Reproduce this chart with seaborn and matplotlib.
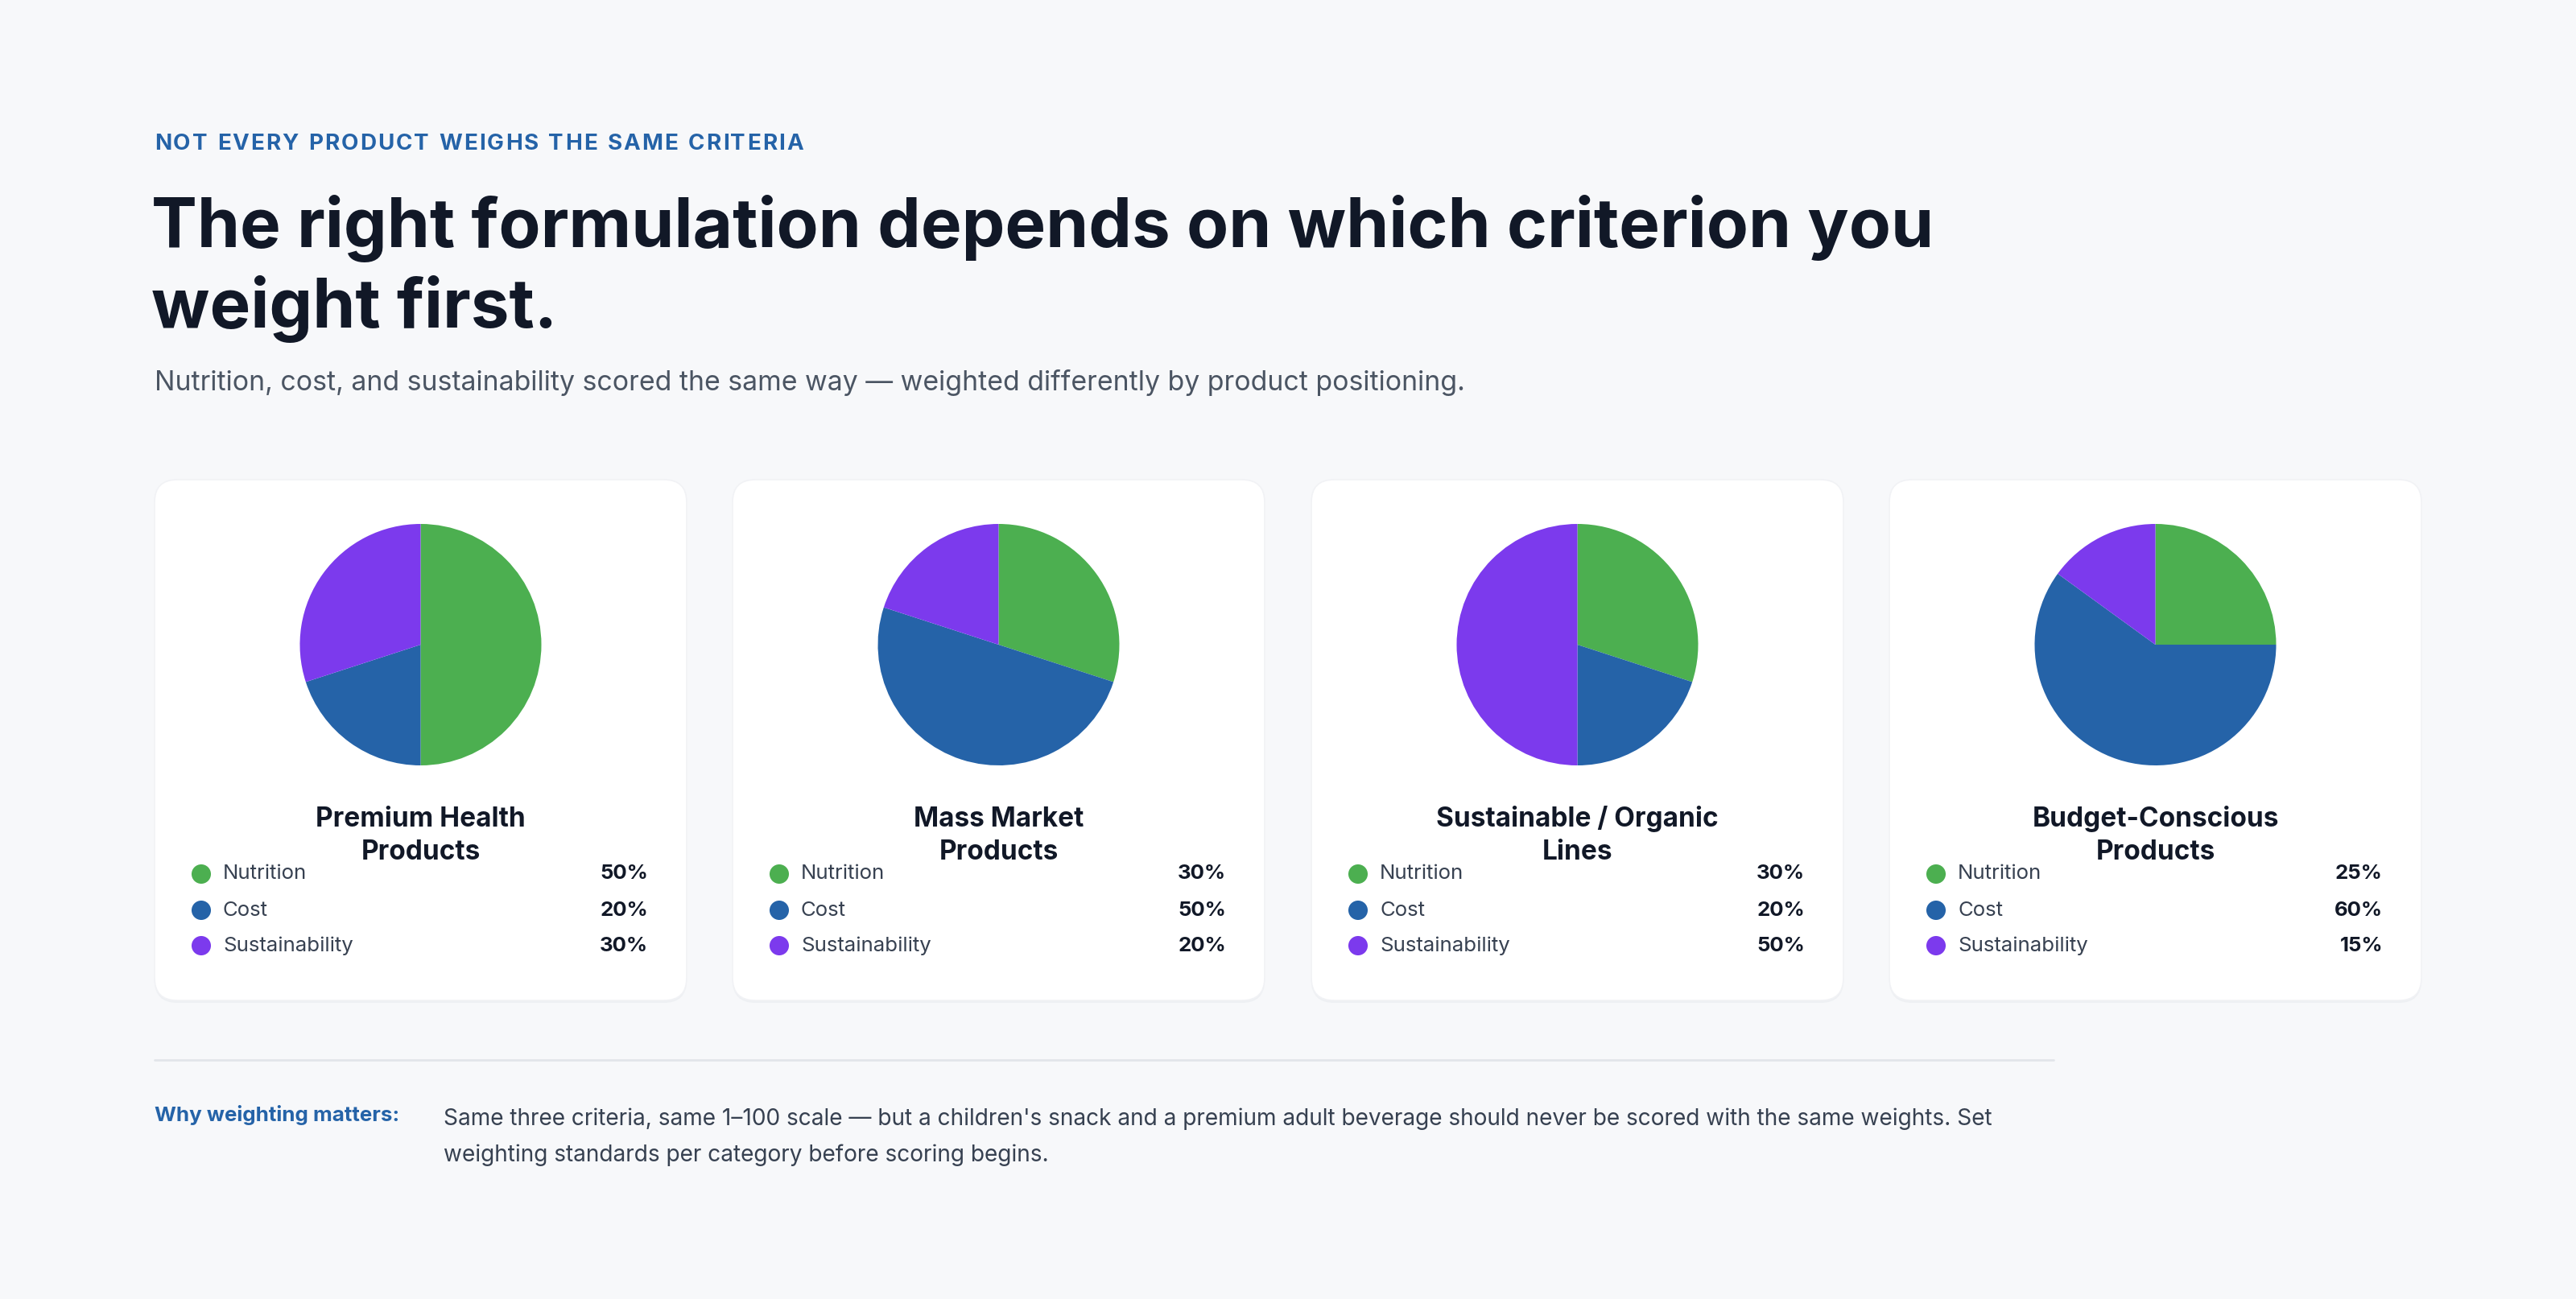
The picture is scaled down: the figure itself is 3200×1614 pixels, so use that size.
import matplotlib
matplotlib.use('Agg')
import matplotlib.pyplot as plt
import seaborn as sns
import pandas as pd
from matplotlib.patches import FancyBboxPatch

# data
products = ["Premium Health\nProducts", "Mass Market\nProducts",
            "Sustainable / Organic\nLines", "Budget-Conscious\nProducts"]
criteria = ["Nutrition", "Cost", "Sustainability"]
nutrition = [50, 30, 30, 25]
cost = [20, 50, 20, 60]
sustainability = [30, 20, 50, 15]
palette = ["#4caf50", "#2563a8", "#7c3aed"]

eyebrow = "NOT EVERY PRODUCT WEIGHS THE SAME CRITERIA"
title_lines = ["The right formulation depends on which criterion you", "weight first."]
subtitle = "Nutrition, cost, and sustainability scored the same way \u2014 weighted differently by product positioning."
note_label = "Why weighting matters:"
note_lines = ["Same three criteria, same 1\u2013100 scale \u2014 but a children's snack and a premium adult beverage should never be scored with the same weights. Set",
              "weighting standards per category before scoring begins."]

sns.set_theme(style="white")
plt.rcParams['font.family'] = ['Inter', 'DejaVu Sans']

W, H = 3200, 1614
BG = "#f7f8fa"
fig = plt.figure(figsize=(16, 8.07), dpi=200, facecolor=BG)

# full-figure axes in pixel coords (y down)
bg = fig.add_axes([0, 0, 1, 1])
bg.set_xlim(0, W)
bg.set_ylim(H, 0)
bg.axis('off')
bg.set_facecolor(BG)
renderer = fig.canvas.get_renderer()


def spaced_text(ax, x, y, s, gap, **kw):
    # letter-spaced text, one glyph at a time
    for ch in s:
        t = ax.text(x, y, ch, **kw)
        w = t.get_window_extent(renderer=renderer).width
        if ch == " ":
            w = ax.text(0, 0, "n", alpha=0, **kw).get_window_extent(renderer=renderer).width * 0.5
        x += w + gap


# header
spaced_text(bg, 192, 186, eyebrow, 2.0, fontsize=10.0, fontweight='bold', color="#2563a8", va='baseline')
for i, line in enumerate(title_lines):
    bg.text(188, 307 + i * 100, line, fontsize=30.7, fontweight='bold', color="#111827", va='baseline')
bg.text(192, 485, subtitle, fontsize=12.2, color="#4b5563", va='baseline')

card_left = [192, 910, 1629, 2347]
card_w, card_top, card_h = 661, 596, 647
pie_r, pie_cy = 150, 801

rows = []
for k in range(len(products)):
    for j, c in enumerate(criteria):
        rows.append({"product": products[k], "card": k, "criterion": c,
                     "value": [nutrition, cost, sustainability][j][k]})
df = pd.DataFrame(rows)

for k, name in enumerate(products):
    x0 = card_left[k]
    # soft shadow + card
    shadow = FancyBboxPatch((x0, card_top + 3), card_w, card_h,
                            boxstyle="round,pad=0,rounding_size=28",
                            facecolor="#eef0f3", edgecolor='none', zorder=1)
    bg.add_patch(shadow)
    card = FancyBboxPatch((x0, card_top), card_w, card_h,
                          boxstyle="round,pad=0,rounding_size=28",
                          facecolor="white", edgecolor="#f1f2f5", linewidth=0.6, zorder=2)
    bg.add_patch(card)

    cx = x0 + card_w / 2
    sub = df[df["card"] == k]
    pax = fig.add_axes([(cx - pie_r) / W, 1 - (pie_cy + pie_r) / H, 2 * pie_r / W, 2 * pie_r / H])
    pax.pie(sub["value"], colors=palette, startangle=90, counterclock=False,
            wedgeprops=dict(linewidth=0, edgecolor='none'))
    pax.set_xlim(-1, 1)
    pax.set_ylim(-1, 1)
    pax.set_aspect('equal')
    pax.axis('off')

    l1, l2 = name.split("\n")
    bg.text(cx, 1027, l1, fontsize=12, fontweight='bold', color="#111827", ha='center', va='baseline', zorder=3)
    bg.text(cx, 1068, l2, fontsize=12, fontweight='bold', color="#111827", ha='center', va='baseline', zorder=3)

    ys = [1086, 1131, 1175]
    dots = pd.DataFrame({"x": [x0 + 58] * 3, "y": ys, "criterion": criteria})
    sns.scatterplot(data=dots, x="x", y="y", hue="criterion", palette=palette,
                    s=75, linewidth=0, legend=False, ax=bg, zorder=3)
    for j, (c, v) in enumerate(zip(sub["criterion"], sub["value"])):
        bg.text(x0 + 85, ys[j], c, fontsize=9.3, color="#374151", va='center', zorder=3)
        bg.text(x0 + 613, ys[j], f"{v}%", fontsize=9.3, fontweight='bold', color="#111827",
                ha='right', va='center', zorder=3)

bg.set_xlim(0, W)
bg.set_ylim(H, 0)
bg.set_xlabel("")
bg.set_ylabel("")

# footer
bg.plot([192, 2551], [1317, 1317], color="#e2e5ea", linewidth=1.0, zorder=1)
bg.text(192, 1385, note_label, fontsize=9.35, fontweight='bold', color="#2563a8", va='center')
for i, line in enumerate(note_lines):
    bg.text(551, 1390 + i * 45, line, fontsize=10.1, color="#374151", va='center')

fig.savefig("out.png", dpi=200, facecolor=BG)
